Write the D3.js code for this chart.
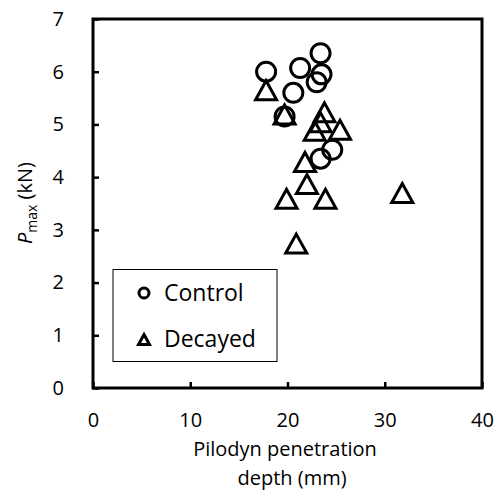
<!DOCTYPE html>
<html>
<head>
<meta charset="utf-8">
<script src="https://cdn.jsdelivr.net/npm/d3@7"></script>
<style>
body{margin:0;background:#fff;}
svg{display:block;}
text{font-family:"Open Sans",sans-serif;fill:#000;}
</style>
</head>
<body>
<svg id="chart" width="501" height="497"></svg>
<script>
// Data
const controlX = [17.8, 21.3, 23.4, 23.5, 23.0, 20.6, 19.7, 24.6, 23.4];
const controlY = [6.0, 6.07, 6.35, 5.95, 5.8, 5.6, 5.15, 4.52, 4.35];
const decayedX = [17.8, 19.7, 23.8, 23.4, 22.8, 25.4, 21.8, 22.0, 19.9, 23.9, 20.9, 31.8];
const decayedY = [5.63, 5.17, 5.21, 5.02, 4.86, 4.88, 4.27, 3.85, 3.57, 3.57, 2.72, 3.68];
const xTicks = [0, 10, 20, 30, 40];
const yTicks = [0, 1, 2, 3, 4, 5, 6, 7];
const seriesNames = ["Control", "Decayed"];

const svg = d3.select("#chart");
const x = d3.scaleLinear().domain([0, 40]).range([93, 482]);
const y = d3.scaleLinear().domain([0, 7]).range([388, 19]);

// Axes
const xAxis = d3.axisBottom(x).tickValues(xTicks).tickFormat(d3.format("d")).tickSizeInner(-6).tickSizeOuter(0).tickPadding(25);
const yAxis = d3.axisLeft(y).tickValues(yTicks).tickFormat(d3.format("d")).tickSizeInner(-6).tickSizeOuter(0).tickPadding(29);

const gx = svg.append("g").attr("transform", `translate(0,${y(0)})`).call(xAxis);
const gy = svg.append("g").attr("transform", `translate(${x(0)},0)`).call(yAxis);
[gx, gy].forEach(g => {
  g.select(".domain").remove();
  g.selectAll(".tick line").attr("stroke", "#000").attr("stroke-width", 2.5);
  g.selectAll(".tick text").attr("font-size", 20).attr("font-family", "Open Sans").attr("fill", "#000");
});

// Frame
svg.append("rect")
  .attr("x", x(0)).attr("y", y(7))
  .attr("width", x(40) - x(0)).attr("height", y(0) - y(7))
  .attr("fill", "none").attr("stroke", "#000").attr("stroke-width", 3);

// Markers
const tri = s => `M0,${-s*1.05}L${s*1.05},${s*0.85}L${-s*1.05},${s*0.85}Z`;

const ctrl = controlX.map((v, i) => ({x: v, y: controlY[i]}));
const dec = decayedX.map((v, i) => ({x: v, y: decayedY[i]}));

svg.append("g").selectAll("circle").data(ctrl).join("circle")
  .attr("cx", d => x(d.x)).attr("cy", d => y(d.y)).attr("r", 9.5)
  .attr("fill", "none").attr("stroke", "#000").attr("stroke-width", 3);

svg.append("g").selectAll("path").data(dec).join("path")
  .attr("transform", d => `translate(${x(d.x)},${y(d.y)})`)
  .attr("d", tri(10)).attr("fill", "none").attr("stroke", "#000")
  .attr("stroke-width", 3).attr("stroke-linejoin", "miter");

// Legend
const lg = svg.append("g");
lg.append("rect").attr("x", 113).attr("y", 269.5).attr("width", 164).attr("height", 92)
  .attr("fill", "#fff").attr("stroke", "#000").attr("stroke-width", 1);
lg.append("circle").attr("cx", 144).attr("cy", 293).attr("r", 5)
  .attr("fill", "none").attr("stroke", "#000").attr("stroke-width", 3);
lg.append("path").attr("transform", "translate(144,340)").attr("d", tri(5.2))
  .attr("fill", "none").attr("stroke", "#000").attr("stroke-width", 3);
lg.append("text").attr("x", 164).attr("y", 301).attr("font-size", 23).text(seriesNames[0]);
lg.append("text").attr("x", 164).attr("y", 347).attr("font-size", 23).text(seriesNames[1]);

// Axis titles
svg.append("text").attr("x", 285).attr("y", 456).attr("text-anchor", "middle")
  .attr("font-size", 20).text("Pilodyn penetration");
svg.append("text").attr("x", 292).attr("y", 485).attr("text-anchor", "middle")
  .attr("font-size", 20).text("depth (mm)");

const yt = svg.append("text").attr("transform", "translate(32,203) rotate(-90)")
  .attr("text-anchor", "middle").attr("font-size", 20);
yt.append("tspan").attr("font-style", "italic").text("P");
yt.append("tspan").attr("font-size", 14).attr("dy", 5).text("max");
yt.append("tspan").attr("dy", -5).text(" (kN)");
</script>
</body>
</html>
